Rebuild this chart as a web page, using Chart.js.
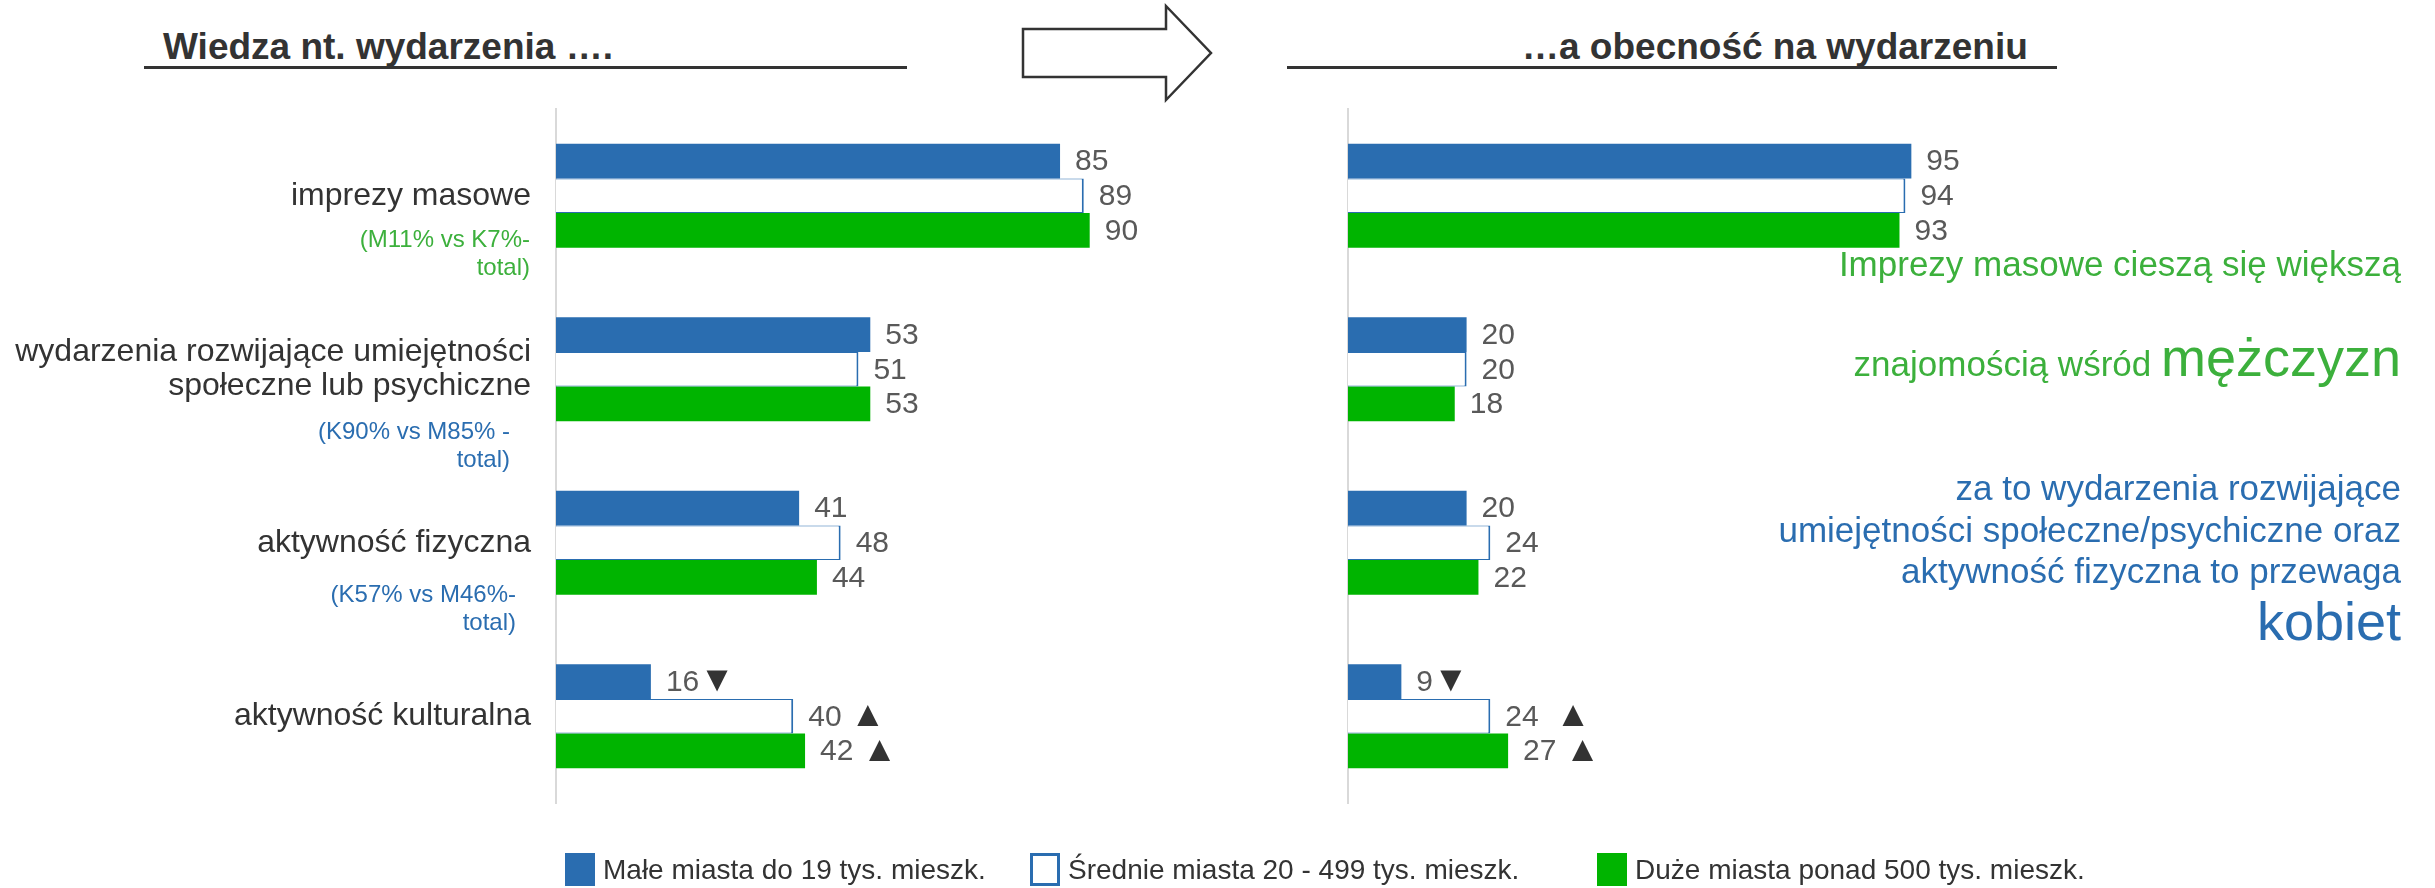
<!DOCTYPE html>
<html>
<head>
<meta charset="utf-8">
<script src="https://cdn.jsdelivr.net/npm/chart.js@4.4.0/dist/chart.umd.min.js"></script>
<style>
  body { margin: 0; width: 2435px; height: 888px; background: #fff; position: relative; overflow: hidden;
         font-family: "Liberation Sans", Arial, sans-serif; }
  canvas { position: absolute; top: 0; }
  .title { position: absolute; top: 28px; font-size: 37px; font-weight: bold; color: #333; line-height: 37px; white-space: nowrap; }
  .rule { position: absolute; top: 66px; height: 3px; background: #333; }
  .note { position: absolute; right: 34px; text-align: right; white-space: nowrap; font-size: 35px; }
  .legend-box { position: absolute; top: 853px; width: 30px; height: 33px; box-sizing: border-box; }
  .legend-text { position: absolute; top: 852px; font-size: 28px; line-height: 36px; color: #333; white-space: nowrap; }
</style>
</head>
<body>
<div class="title" style="left:163px">Wiedza nt. wydarzenia ….</div>
<div class="rule" style="left:144px;width:763px"></div>
<div class="title" style="left:1522px">…a obecność na wydarzeniu</div>
<div class="rule" style="left:1287px;width:770px"></div>
<svg style="position:absolute;left:0;top:0" width="2435" height="120">
  <polygon points="1023,29 1166,29 1166,6 1211,53 1166,100 1166,77 1023,77" fill="#fff" stroke="#333" stroke-width="2.5"/>
</svg>

<canvas id="know-chart" width="1250" height="888" style="left:0"></canvas>
<canvas id="attend-chart" width="700" height="888" style="left:1290px"></canvas>

<div class="note" style="top:243px;color:#3cb03c;line-height:42px">Imprezy masowe cieszą się większą</div>
<div class="note" style="top:327px;color:#3cb03c;line-height:60px">znajomością wśród <span style="font-size:54px">mężczyzn</span></div>
<div class="note" style="top:467px;color:#2a6db0;line-height:42px">za to wydarzenia rozwijające</div>
<div class="note" style="top:509px;color:#2a6db0;line-height:42px">umiejętności społeczne/psychiczne oraz</div>
<div class="note" style="top:550px;color:#2a6db0;line-height:42px">aktywność fizyczna to przewaga</div>
<div class="note" style="top:591px;color:#2a6db0;line-height:60px;font-size:54px">kobiet</div>

<div id="legend"></div>

<script>
const categories = [
  ["imprezy masowe"],
  ["wydarzenia rozwijające umiejętności", "społeczne lub psychiczne"],
  ["aktywność fizyczna"],
  ["aktywność kulturalna"],
];
const subLabels = [
  ["(M11% vs K7%-", "total)"],
  ["(K90% vs M85% -", "total)"],
  ["(K57% vs M46%-", "total)"],
  [],
];
const seriesNames = [
  "Małe miasta do 19 tys. mieszk.",
  "Średnie miasta 20 - 499 tys. mieszk.",
  "Duże miasta ponad 500 tys. mieszk.",
];

// wiedza nt. wydarzenia
const knowSmall = [85, 53, 41, 16];
const knowMedium = [89, 51, 48, 40];
const knowLarge = [90, 53, 44, 42];

// obecność na wydarzeniu
const attendSmall = [95, 20, 20, 9];
const attendMedium = [94, 20, 24, 24];
const attendLarge = [93, 18, 22, 27];

// istotne różnice
const knowMarks = [["", "", "", "▼"], ["", "", "", " ▲"], ["", "", "", " ▲"]];
const attendMarks = [["", "", "", "▼"], ["", "", "", "  ▲"], ["", "", "", " ▲"]];

const BLUE = "#2a6db0";
const GREEN = "#00b400";
const FONT = "'Liberation Sans', Arial, sans-serif";

const valueLabels = {
  id: "valueLabels",
  afterDatasetsDraw(chart, args, opts) {
    const ctx = chart.ctx;
    ctx.save();
    ctx.textBaseline = "middle";
    ctx.textAlign = "left";
    chart.data.datasets.forEach((ds, di) => {
      chart.getDatasetMeta(di).data.forEach((bar, i) => {
        const txt = String(ds.data[i]);
        const x = bar.x + 15;
        ctx.font = "30px " + FONT;
        ctx.fillStyle = "#595959";
        ctx.fillText(txt, x, bar.y + 1);
        const mark = opts.marks[di][i];
        if (mark) {
          // spacje w foncie etykiety, trójkąt większy
          const glyph = mark.trim();
          const lead = mark.slice(0, mark.indexOf(glyph));
          const w = ctx.measureText(txt + lead).width;
          ctx.font = "36px " + FONT;
          ctx.fillStyle = "#333";
          ctx.fillText(glyph, x + w, bar.y);
        }
      });
    });
    ctx.restore();
  },
};

const subLabelPlugin = {
  id: "subLabels",
  afterDraw(chart, args, opts) {
    const ctx = chart.ctx;
    const yScale = chart.scales.y;
    ctx.save();
    ctx.font = "24px " + FONT;
    ctx.textAlign = "right";
    ctx.textBaseline = "middle";
    subLabels.forEach((lines, i) => {
      const y0 = yScale.getPixelForValue(i) + opts.offsets[i];
      ctx.fillStyle = opts.colors[i];
      lines.forEach((line, j) => {
        ctx.fillText(line, opts.right[i], y0 + j * 28);
      });
    });
    ctx.restore();
  },
};

function makeDatasets(small, medium, large) {
  return [
    { label: seriesNames[0], data: small, backgroundColor: BLUE, borderWidth: 0 },
    {
      label: seriesNames[1], data: medium, backgroundColor: "#fff", borderColor: BLUE,
      borderWidth: { top: 1, right: 2, bottom: 1, left: 0 }, borderSkipped: false,
    },
    { label: seriesNames[2], data: large, backgroundColor: GREEN, borderWidth: 0 },
  ];
}

function makeOptions(axisWidth, padRight, showTicks, marks) {
  return {
    indexAxis: "y",
    responsive: false,
    animation: false,
    layout: { padding: { top: 109, bottom: 85, right: padRight, left: 0 } },
    datasets: { bar: { categoryPercentage: 0.6, barPercentage: 1.0 } },
    scales: {
      x: { min: 0, max: 100, display: false },
      y: {
        grid: { display: false, drawTicks: false },
        border: { display: true, color: "#d9d9d9", width: 2 },
        ticks: {
          display: showTicks,
          padding: 25,
          color: "#333",
          font: { family: FONT, size: 32, lineHeight: 1.04 },
        },
        afterFit: (scale) => {
          scale.width = axisWidth;
        },
      },
    },
    plugins: {
      legend: { display: false },
      tooltip: { enabled: false },
      valueLabels: { marks: marks },
      subLabels: {
        offsets: [45, 63, 53, 0],
        right: [530, 510, 516, 0],
        colors: ["#3cb03c", BLUE, BLUE, BLUE],
      },
    },
  };
}

new Chart(document.getElementById("know-chart"), {
  type: "bar",
  data: { labels: categories, datasets: makeDatasets(knowSmall, knowMedium, knowLarge) },
  options: makeOptions(556, 101, true, knowMarks),
  plugins: [valueLabels, subLabelPlugin],
});

new Chart(document.getElementById("attend-chart"), {
  type: "bar",
  data: { labels: categories, datasets: makeDatasets(attendSmall, attendMedium, attendLarge) },
  options: makeOptions(58, 49, false, attendMarks),
  plugins: [valueLabels],
});

// legenda
const legend = document.getElementById("legend");
const boxLeft = [565, 1030, 1597];
const boxStyles = [
  "background:" + BLUE,
  "background:#fff;border:3px solid " + BLUE,
  "background:" + GREEN,
];
seriesNames.forEach((name, i) => {
  legend.innerHTML += `
    <div class="legend-box" style="left:${boxLeft[i]}px;${boxStyles[i]}"></div>
    <div class="legend-text" style="left:${boxLeft[i] + 38}px">${name}</div>`;
});
</script>
</body>
</html>
